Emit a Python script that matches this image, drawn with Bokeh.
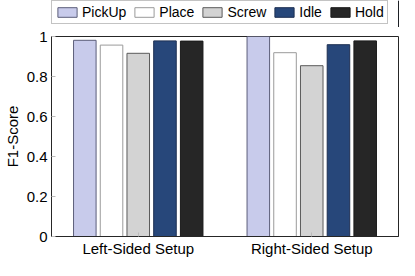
from bokeh.plotting import figure
from bokeh.models import ColumnDataSource, Legend, LegendItem, FixedTicker, Range1d
from bokeh.layouts import column
from bokeh.embed import file_html
from bokeh.resources import INLINE

groups = ["Left-Sided Setup", "Right-Sided Setup"]
activities = ["PickUp", "Place", "Screw", "Idle", "Hold"]
scores = {
    "PickUp": [0.981, 1.0],
    "Place": [0.957, 0.919],
    "Screw": [0.916, 0.854],
    "Idle": [0.978, 0.959],
    "Hold": [0.977, 0.978],
}
fills = ["#c8cbeb", "#ffffff", "#d3d3d3", "#27477a", "#262626"]
lines = ["#5c5e7a", "#9a9a9a", "#5a5a5a", "#1d2f52", "#1a1a1a"]
y_ticks = [0, 0.2, 0.4, 0.6, 0.8, 1.0]

FONT = "Liberation Sans"
FS = "15px"

# main chart
p = figure(width=399, height=233, output_backend="svg", toolbar_location=None,
           x_range=Range1d(0.5, 2.5), y_range=Range1d(0, 1))
p.min_border_left = 45
p.min_border_right = 1
p.min_border_top = 9
p.min_border_bottom = 24

# legend strip (its bars lie outside its visible range; only the legend shows)
lg = figure(width=399, height=27, output_backend="svg", toolbar_location=None,
            x_range=Range1d(-10, -9), y_range=Range1d(0, 1),
            x_axis_location=None, y_axis_location=None)
lg.min_border = 0
lg.grid.visible = False
lg.outline_line_color = None

step = 0.154
width = 0.13
items = []
for i, act in enumerate(activities):
    xs = [g + 1 + (i - 2) * step for g in range(len(groups))]
    src = ColumnDataSource(dict(x=xs, top=scores[act]))
    p.vbar(x="x", top="top", bottom=0, width=width, source=src,
           fill_color=fills[i], line_color=lines[i], line_width=1)
    r = lg.vbar(x="x", top="top", bottom=0, width=width, source=src,
                fill_color=fills[i], line_color=lines[i], line_width=1)
    items.append(LegendItem(label=act, renderers=[r]))

legend = Legend(items=items, orientation="horizontal", location=(0, 3),
                label_text_font=FONT, label_text_font_size="14px",
                label_text_color="#000000",
                glyph_width=24, glyph_height=12, label_standoff=3, spacing=6,
                padding=3, margin=0, border_line_color="#888888")
lg.add_layout(legend, "center")

p.xgrid.visible = False
p.ygrid.visible = False
p.outline_line_color = "#262626"
p.outline_line_width = 1

p.xaxis.ticker = FixedTicker(ticks=[1, 2])
p.xaxis.major_label_overrides = {1: groups[0], 2: groups[1]}
p.yaxis.ticker = FixedTicker(ticks=y_ticks)
p.yaxis.major_label_overrides = {0: "0", 1: "1"}
for ax in (p.xaxis, p.yaxis):
    ax.axis_line_color = "#262626"
    ax.major_tick_in = 4
    ax.major_tick_out = 0
    ax.major_tick_line_color = "#bbbbbb"
    ax.minor_tick_line_color = None
    ax.major_label_text_font = FONT
    ax.major_label_text_font_size = FS
    ax.major_label_text_color = "#000000"
p.yaxis.major_label_standoff = 4
p.xaxis.major_label_standoff = 3
p.yaxis.axis_label = "F1-Score"
p.yaxis.axis_label_text_font = FONT
p.yaxis.axis_label_text_font_size = FS
p.yaxis.axis_label_text_font_style = "normal"
p.yaxis.axis_label_standoff = 3
p.yaxis.axis_label_text_color = "#000000"

open("out.html", "w").write(file_html(column(lg, p, spacing=0), INLINE))
